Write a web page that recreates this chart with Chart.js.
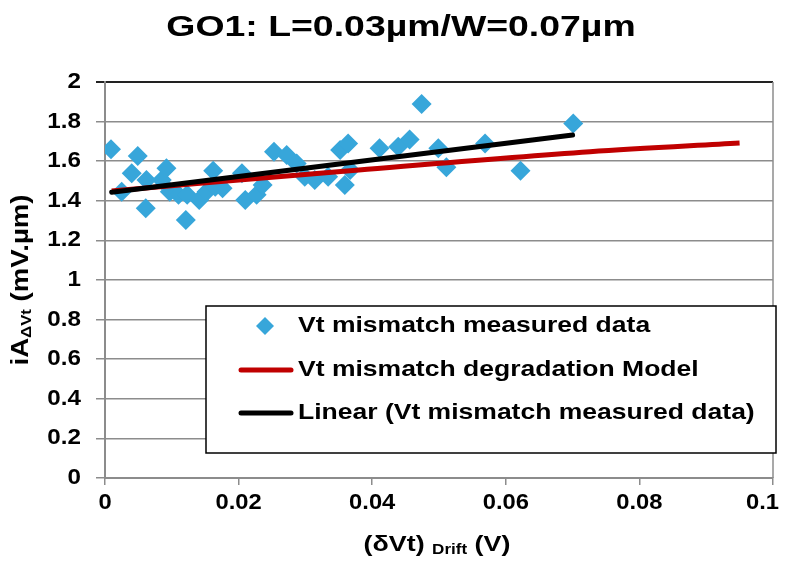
<!DOCTYPE html>
<html>
<head>
<meta charset="utf-8">
<script src="https://cdn.jsdelivr.net/npm/chart.js@4/dist/chart.umd.min.js"></script>
<style>
  html, body { margin: 0; padding: 0; background: #fff; }
  #wrap { width: 792px; height: 561px; position: relative; }
</style>
</head>
<body>
<div id="wrap"><canvas id="mismatchChart"></canvas></div>
<script>
// Données mesurées (δVt drift en V, iAΔVt en mV.µm)
const measX = [0.0009, 0.0025, 0.004, 0.0049, 0.0062, 0.0061, 0.0085, 0.0092, 0.0097, 0.011,
               0.0123, 0.0121, 0.0141, 0.0152, 0.0162, 0.0165, 0.0176, 0.0205, 0.021, 0.0227,
               0.0236, 0.0253, 0.0272, 0.0287, 0.0299, 0.0314, 0.0334, 0.0352, 0.0364, 0.0367,
               0.0359, 0.0411, 0.0439, 0.0456, 0.0474, 0.0499, 0.0511, 0.0569, 0.0622, 0.0701];
const measY = [1.66, 1.446, 1.539, 1.626, 1.505, 1.362, 1.505, 1.564, 1.446, 1.43,
               1.43, 1.303, 1.404, 1.446, 1.552, 1.471, 1.463, 1.539, 1.404, 1.43,
               1.48, 1.648, 1.631, 1.589, 1.522, 1.505, 1.522, 1.657, 1.69, 1.556,
               1.48, 1.665, 1.673, 1.71, 1.889, 1.665, 1.569, 1.69, 1.552, 1.79];

// Modèle de dégradation
const modelX = [0.001, 0.038, 0.0726, 0.095];
const modelY = [1.45, 1.556, 1.648, 1.692];

// Tendance linéaire (Excel)
const trendX = [0.001, 0.07];
const trendY = [1.443, 1.732];

const xTicks = [0, 0.02, 0.04, 0.06, 0.08, 0.1];
const yTicks = [0, 0.2, 0.4, 0.6, 0.8, 1, 1.2, 1.4, 1.6, 1.8, 2];

const legendLabels = ['Vt mismatch measured data', 'Vt mismatch degradation Model', 'Linear (Vt mismatch measured data)'];

const FONT = '"Liberation Sans", Arial, sans-serif';
const BLUE = '#37A6DA';
const RED = '#C00000';

const toPoints = (xs, ys) => xs.map((x, i) => ({ x: x, y: ys[i] }));

// texte élargi horizontalement (le rendu d'origine est étiré)
function drawParts(ctx, parts, cx, cy, sx, align) {
    let total = 0;
    parts.forEach(p => { ctx.font = p[1]; total += ctx.measureText(p[0]).width; });
    let x0 = 0;
    if (align === 'center') x0 = -total / 2;
    if (align === 'right') x0 = -total;
    ctx.save();
    ctx.translate(cx, cy);
    ctx.scale(sx, 1);
    ctx.textAlign = 'left';
    ctx.textBaseline = 'middle';
    parts.forEach(p => {
        ctx.font = p[1];
        ctx.fillText(p[0], x0, p[2] || 0);
        x0 += ctx.measureText(p[0]).width;
    });
    ctx.restore();
    return total * sx;
}

const decorPlugin = {
    id: 'decor',
    afterDraw(chart) {
        const ctx = chart.ctx;
        const area = chart.chartArea;
        ctx.save();
        ctx.fillStyle = '#000';

        // bord droit de la zone de tracé
        ctx.strokeStyle = '#8c8c8c';
        ctx.lineWidth = 1.5;
        ctx.beginPath();
        ctx.moveTo(area.right, area.top);
        ctx.lineTo(area.right, area.bottom);
        ctx.stroke();

        // étiquettes des axes
        const tickFont = 'bold 22px ' + FONT;
        const ys = chart.scales.y;
        yTicks.forEach(v => {
            drawParts(ctx, [[String(v), tickFont]], 81, ys.getPixelForValue(v), 1.1, 'right');
        });
        const xs = chart.scales.x;
        xTicks.forEach(v => {
            ctx.font = tickFont;
            const w = ctx.measureText(String(v)).width * 1.08;
            let cx = xs.getPixelForValue(v);
            if (cx + w / 2 > 779) cx = 779 - w / 2;
            drawParts(ctx, [[String(v), tickFont]], cx, 503, 1.08, 'center');
        });

        // titre
        drawParts(ctx, [['GO1: L=0.03µm/W=0.07µm', 'bold 29px ' + FONT]], 401, 28, 1.29, 'center');

        // titre axe X : (δVt) Drift (V)
        const big = 'bold 22px ' + FONT;
        drawParts(ctx, [['(δVt) ', big], ['Drift', 'bold 14px ' + FONT, 5], [' (V)', big]], 437, 545, 1.22, 'center');

        // titre axe Y : iAΔVt (mV.µm)
        ctx.save();
        ctx.translate(22, 280);
        ctx.rotate(-Math.PI / 2);
        drawParts(ctx, [['iA', 'bold 23px ' + FONT], ['ΔVt', 'bold 14px ' + FONT, 5], [' (mV.µm)', 'bold 23px ' + FONT]], 0, 0, 1.2, 'center');
        ctx.restore();

        // légende
        const box = { left: 206, top: 306, right: 776, bottom: 453 };
        ctx.fillStyle = '#fff';
        ctx.fillRect(box.left, box.top, box.right - box.left, box.bottom - box.top);
        ctx.strokeStyle = '#000';
        ctx.lineWidth = 1.5;
        ctx.strokeRect(box.left, box.top, box.right - box.left, box.bottom - box.top);

        const rows = [326, 370, 413];
        ctx.fillStyle = BLUE;
        ctx.beginPath();
        ctx.moveTo(265, rows[0] - 9);
        ctx.lineTo(274, rows[0]);
        ctx.lineTo(265, rows[0] + 9);
        ctx.lineTo(256, rows[0]);
        ctx.closePath();
        ctx.fill();
        ctx.lineWidth = 5;
        ctx.lineCap = 'round';
        [[rows[1], RED], [rows[2], '#000']].forEach(r => {
            ctx.strokeStyle = r[1];
            ctx.beginPath();
            ctx.moveTo(241, r[0]);
            ctx.lineTo(291, r[0]);
            ctx.stroke();
        });
        ctx.fillStyle = '#000';
        legendLabels.forEach((t, i) => drawParts(ctx, [[t, 'bold 22px ' + FONT]], 298, rows[i], 1.205, 'left'));

        ctx.restore();
    }
};

const ctx = document.getElementById('mismatchChart').getContext('2d');
new Chart(ctx, {
    type: 'scatter',
    data: {
        datasets: [
            {
                label: legendLabels[0],
                data: toPoints(measX, measY),
                pointStyle: 'rectRot',
                pointRadius: 10,
                backgroundColor: BLUE,
                borderColor: BLUE,
                borderWidth: 0,
                order: 3
            },
            {
                label: legendLabels[1],
                data: toPoints(modelX, modelY),
                showLine: true,
                borderColor: RED,
                borderWidth: 5,
                pointRadius: 0,
                cubicInterpolationMode: 'monotone',
                order: 2
            },
            {
                label: legendLabels[2],
                data: toPoints(trendX, trendY),
                showLine: true,
                borderColor: '#000',
                borderWidth: 5,
                borderCapStyle: 'round',
                pointRadius: 0,
                order: 1
            }
        ]
    },
    options: {
        responsive: true,
        maintainAspectRatio: false,
        animation: false,
        layout: { padding: { left: 0, top: 82, right: 19, bottom: 0 } },
        plugins: {
            legend: { display: false },
            title: { display: false },
            tooltip: { enabled: false }
        },
        scales: {
            x: {
                type: 'linear',
                min: 0,
                max: 0.1,
                ticks: { stepSize: 0.02, color: 'rgba(0,0,0,0)', font: { size: 1 } },
                grid: { drawOnChartArea: false, tickLength: 7, color: '#8c8c8c', lineWidth: 1.5 },
                border: { color: '#8c8c8c', width: 2 },
                afterFit: s => { s.height = 83; }
            },
            y: {
                min: 0,
                max: 2,
                ticks: { stepSize: 0.2, color: 'rgba(0,0,0,0)', font: { size: 1 } },
                grid: {
                    tickLength: 9,
                    color: c => (c.tick && c.tick.value === 2) ? '#222' : '#8c8c8c',
                    lineWidth: c => (c.tick && c.tick.value === 2) ? 2 : 1.5
                },
                border: { color: '#8c8c8c', width: 2 },
                afterFit: s => { s.width = 105; }
            }
        }
    },
    plugins: [decorPlugin]
});
</script>
</body>
</html>
